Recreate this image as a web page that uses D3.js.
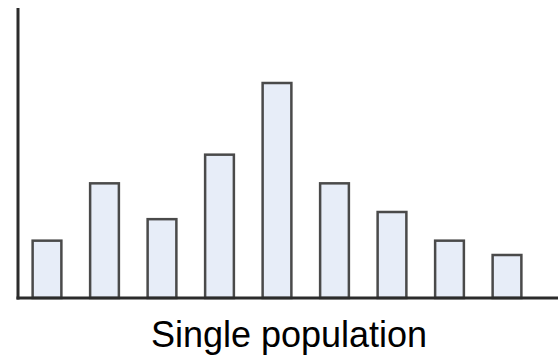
<!DOCTYPE html>
<html><head><meta charset="utf-8">
<script src="https://cdn.jsdelivr.net/npm/d3@7"></script>
<style>html,body{margin:0;padding:0;background:#fff;}svg{display:block;}</style>
</head><body>
<svg id="chart" width="558" height="361"></svg>
<script>
const categories = ["1","2","3","4","5","6","7","8","9"];
const values = [4, 8, 5.5, 10, 15, 8, 6, 4, 3];
const title = "Single population";

const svg = d3.select("#chart");
const x = d3.scaleBand().domain(categories).range([18.25, 535.75]).paddingInner(0.5).paddingOuter(0.25);
const y = d3.scaleLinear().domain([0, 15]).range([298, 83]);

svg.selectAll("rect.bar").data(values).join("rect")
  .attr("class","bar")
  .attr("x",(d,i)=>x(categories[i]))
  .attr("width",x.bandwidth())
  .attr("y",d=>y(d))
  .attr("height",d=>y(0)-y(d))
  .attr("fill","#e7edf8")
  .attr("stroke","#4a4a4a")
  .attr("stroke-width",2.5);

// axes
svg.append("line").attr("x1",18).attr("x2",18).attr("y1",8).attr("y2",y(0)+1.5)
  .attr("stroke","#2b2b2b").attr("stroke-width",3);
svg.append("line").attr("x1",16.5).attr("x2",558).attr("y1",y(0)).attr("y2",y(0))
  .attr("stroke","#2b2b2b").attr("stroke-width",3);

svg.append("text").attr("x",289).attr("y",347).attr("text-anchor","middle")
  .attr("font-family","Liberation Sans, Arial, sans-serif").attr("font-size",36)
  .attr("fill","#000").text(title);
</script>
</body></html>
